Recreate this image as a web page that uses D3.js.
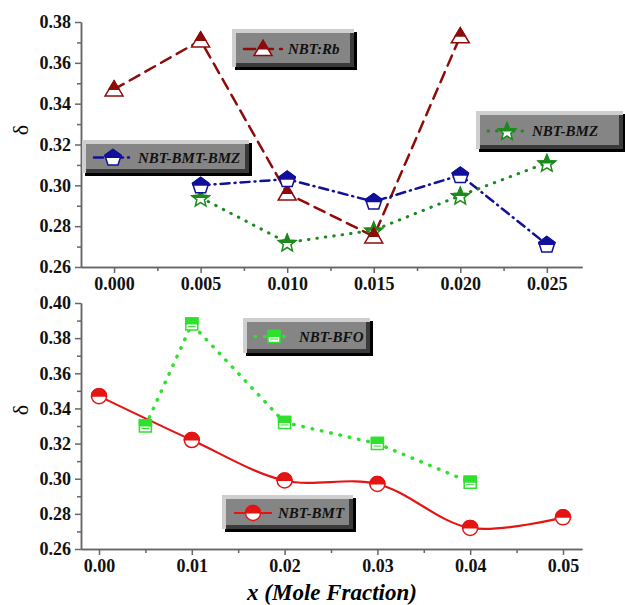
<!DOCTYPE html>
<html>
<head>
<meta charset="utf-8">
<script src="https://cdn.jsdelivr.net/npm/d3@7"></script>
<style>
body { margin: 0; background: #fff; }
svg { display: block; }
.tick text { font-family: "Liberation Serif", "Times New Roman", serif; font-weight: bold; font-size: 18px; fill: #111; }
.axis path, .axis line { stroke: #666; stroke-width: 1.5; }
.legend text { font-family: "Liberation Serif", serif; font-weight: bold; font-style: italic; font-size: 15px; fill: #111; }
</style>
</head>
<body>
<script>
// top panel
var topX = [0.000, 0.005, 0.010, 0.015, 0.020, 0.025];
var rb = [0.347, 0.371, 0.296, 0.275, 0.373, null];
var bmtBmz = [null, 0.300, 0.303, 0.292, 0.305, 0.271];
var bmz = [null, 0.294, 0.272, 0.278, 0.295, 0.311];
var topYTicks = [0.26, 0.28, 0.30, 0.32, 0.34, 0.36, 0.38];

// bottom panel
var bmtX = [0.00, 0.01, 0.02, 0.03, 0.04, 0.05];
var bmt = [0.347, 0.322, 0.299, 0.297, 0.272, 0.278];
var bfoX = [0.005, 0.01, 0.02, 0.03, 0.04];
var bfo = [0.330, 0.388, 0.332, 0.320, 0.298];
var botXTicks = [0.00, 0.01, 0.02, 0.03, 0.04, 0.05];
var botYTicks = [0.26, 0.28, 0.30, 0.32, 0.34, 0.36, 0.38, 0.40];

var W = 625, H = 605;
var svg = d3.select('body').append('svg').attr('width', W).attr('height', H);

var defs = svg.append('defs');
defs.append('clipPath').attr('id', 'tophalf')
	.append('rect').attr('x', -20).attr('y', -20).attr('width', 40).attr('height', 20.5);

var shapes = {
	triangle: 'M0,-8.5L9,6.5L-9,6.5Z',
	pentagon: (function() {
		var p = [];
		for (var i = 0; i < 5; i++) {
			var a = -Math.PI / 2 + i * 2 * Math.PI / 5;
			p.push([8.5 * Math.cos(a), 8.5 * Math.sin(a) + 0.5]);
		}
		return 'M' + p.join('L') + 'Z';
	})(),
	star: (function() {
		var p = [];
		for (var i = 0; i < 10; i++) {
			var a = -Math.PI / 2 + i * Math.PI / 5;
			var r = i % 2 ? 4 : 9;
			p.push([r * Math.cos(a), r * Math.sin(a) + 1]);
		}
		return 'M' + p.join('L') + 'Z';
	})(),
	square: 'M-6,-6L6,-6L6,6L-6,6Z',
	circle: 'M-7.5,0A7.5,7.5 0 1,1 7.5,0A7.5,7.5 0 1,1 -7.5,0Z'
};

function marker(g, x, y, shape, color) {
	var m = g.append('g').attr('transform', 'translate(' + x + ',' + y + ')');
	m.append('path').attr('d', shapes[shape]).attr('fill', '#fff').attr('stroke', color).attr('stroke-width', 1.5);
	m.append('path').attr('d', shapes[shape]).attr('fill', color).attr('stroke', color).attr('stroke-width', 1.5)
		.attr('clip-path', 'url(#tophalf)');
	if (shape === 'square') {
		m.append('line').attr('x1', -4).attr('x2', 4).attr('y1', 2.5).attr('y2', 2.5).attr('stroke', color).attr('stroke-width', 1);
	}
}

function legendBox(x, y, w, h, label, color, dash, shape, width) {
	var g = svg.append('g').attr('class', 'legend');
	g.append('rect').attr('x', x + 3).attr('y', y + 3).attr('width', w).attr('height', h).attr('fill', '#000');
	g.append('rect').attr('x', x).attr('y', y).attr('width', w).attr('height', h).attr('fill', '#cfcfcf');
	g.append('rect').attr('x', x + 4).attr('y', y + 4).attr('width', w - 4).attr('height', h - 4).attr('fill', '#3a3a3a');
	g.append('rect').attr('x', x + 4).attr('y', y + 4).attr('width', w - 8).attr('height', h - 8).attr('fill', '#858585');
	var cy = y + h / 2 + 1;
	g.append('line').attr('x1', x + 12).attr('x2', x + 50).attr('y1', cy).attr('y2', cy)
		.attr('stroke', color).attr('stroke-width', width).attr('stroke-dasharray', dash)
		.attr('stroke-linecap', dash === 'none' ? 'butt' : 'round');
	marker(g, x + 31, cy, shape, color);
	g.append('text').attr('x', x + 56).attr('y', cy + 5).text(label);
}

function panel(xScale, yScale, xTicks, xMinor, yTicks, yMinor, xFmt) {
	var g = svg.append('g');
	var x0 = yScale.range()[0];
	g.append('g').attr('class', 'axis').attr('transform', 'translate(0,' + x0 + ')')
		.call(d3.axisBottom(xScale).tickValues(xMinor).tickSize(4).tickSizeOuter(0).tickFormat(''));
	g.append('g').attr('class', 'axis').attr('transform', 'translate(0,' + x0 + ')')
		.call(d3.axisBottom(xScale).tickValues(xTicks).tickSize(6).tickSizeOuter(0).tickPadding(4).tickFormat(xFmt));
	var xl = xScale.range()[0];
	g.append('g').attr('class', 'axis').attr('transform', 'translate(' + xl + ',0)')
		.call(d3.axisLeft(yScale).tickValues(yMinor).tickSize(4).tickSizeOuter(0).tickFormat(''));
	g.append('g').attr('class', 'axis').attr('transform', 'translate(' + xl + ',0)')
		.call(d3.axisLeft(yScale).tickValues(yTicks).tickSize(6).tickSizeOuter(0).tickPadding(4).tickFormat(d3.format('.2f')));
	return g;
}

function series(g, xs, ys, xScale, yScale, color, dash, width, curve) {
	var pts = [];
	xs.forEach(function(v, i) { if (ys[i] != null) pts.push([v, ys[i]]); });
	var line = d3.line().x(function(d) { return xScale(d[0]); }).y(function(d) { return yScale(d[1]); }).curve(curve);
	g.append('path').datum(pts).attr('d', line).attr('fill', 'none').attr('stroke', color)
		.attr('stroke-width', width).attr('stroke-dasharray', dash)
		.attr('stroke-linecap', dash === 'none' ? 'butt' : 'round');
	return pts;
}

// ---- top panel
var x1 = d3.scaleLinear().domain([-0.00191, 0.02703]).range([81, 582]);
var y1 = d3.scaleLinear().domain([0.26, 0.38]).range([267, 22]);
var g1 = panel(x1, y1, topX, d3.range(0.0025, 0.027, 0.005), topYTicks, d3.range(0.27, 0.38, 0.02), d3.format('.3f'));

var cRb = '#8e0b0b', cBlue = '#10109a', cGreen = '#1c8a1c', cLime = '#2fe02f', cRed = '#e41414';
var pRb = series(g1, topX, rb, x1, y1, cRb, '11,7', 2.5, d3.curveLinear);
var pB = series(g1, topX, bmtBmz, x1, y1, cBlue, '9,5,1,5', 2.5, d3.curveLinear);
var pG = series(g1, topX, bmz, x1, y1, cGreen, '0.5,8', 3, d3.curveLinear);
pG.forEach(function(d) { marker(g1, x1(d[0]), y1(d[1]), 'star', cGreen); });
pRb.forEach(function(d) { marker(g1, x1(d[0]), y1(d[1]), 'triangle', cRb); });
pB.forEach(function(d) { marker(g1, x1(d[0]), y1(d[1]), 'pentagon', cBlue); });

// ---- bottom panel
var x2 = d3.scaleLinear().domain([-0.00194, 0.05205]).range([81, 582]);
var y2 = d3.scaleLinear().domain([0.26, 0.40]).range([549, 303]);
var g2 = panel(x2, y2, botXTicks, d3.range(0.005, 0.052, 0.01), botYTicks, d3.range(0.27, 0.40, 0.02), d3.format('.2f'));

var pF = series(g2, bfoX, bfo, x2, y2, cLime, '0.5,9', 3.5, d3.curveLinear);
var pR = series(g2, bmtX, bmt, x2, y2, cRed, 'none', 2.2, d3.curveCatmullRom.alpha(0.5));
pF.forEach(function(d) { marker(g2, x2(d[0]), y2(d[1]), 'square', cLime); });
pR.forEach(function(d) { marker(g2, x2(d[0]), y2(d[1]), 'circle', cRed); });

// legends
legendBox(232, 29, 122, 38, 'NBT:Rb', cRb, '11,7', 'triangle', 2.5);
legendBox(82, 140, 167, 33, 'NBT-BMT-BMZ', cBlue, '9,5,1,5', 'pentagon', 2.5);
legendBox(476, 111, 147, 38, 'NBT-BMZ', cGreen, '0.5,8', 'star', 3);
legendBox(243, 318, 127, 35, 'NBT-BFO', cLime, '0.5,9', 'square', 3.5);
legendBox(222, 495, 131, 34, 'NBT-BMT', cRed, 'none', 'circle', 2.2);

// axis titles
svg.append('text').attr('transform', 'translate(28,130) rotate(-90)').attr('text-anchor', 'middle')
	.style('font-family', 'Liberation Serif, serif').style('font-size', '22px').text('δ');
svg.append('text').attr('transform', 'translate(28,410) rotate(-90)').attr('text-anchor', 'middle')
	.style('font-family', 'Liberation Serif, serif').style('font-size', '22px').text('δ');
svg.append('text').attr('x', 332).attr('y', 600).attr('text-anchor', 'middle')
	.style('font-family', 'Liberation Serif, serif').style('font-weight', 'bold').style('font-style', 'italic')
	.style('font-size', '23px').text('x (Mole Fraction)');
</script>
</body>
</html>
